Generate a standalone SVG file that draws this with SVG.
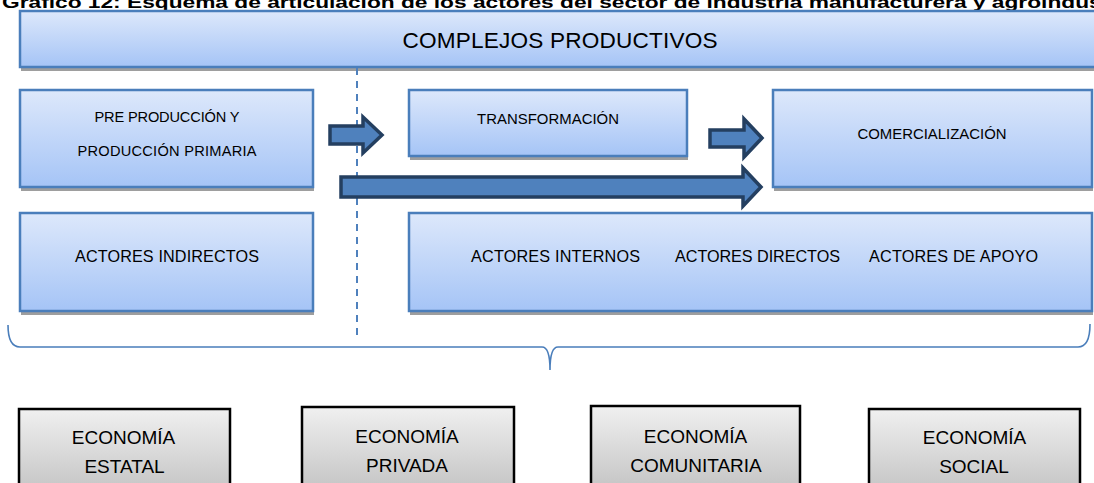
<svg xmlns="http://www.w3.org/2000/svg" width="1094" height="483" viewBox="0 0 1094 483">
<defs>
<linearGradient id="blue" x1="0" y1="0" x2="0" y2="1">
<stop offset="0" stop-color="#dde8fb"/>
<stop offset="1" stop-color="#a5c4f6"/>
</linearGradient>
<linearGradient id="gray" x1="0" y1="0" x2="0" y2="1">
<stop offset="0" stop-color="#f0f0f0"/>
<stop offset="1" stop-color="#c6c6c6"/>
</linearGradient>
</defs>
<style>
.shadow{fill:#9e9e9e}
.bbox{fill:url(#blue);stroke:#4a7ebb;stroke-width:2.5}
.gbox{fill:url(#gray);stroke:#000;stroke-width:2.5}
.t{font-family:"Liberation Sans",Arial,sans-serif;fill:#000;text-anchor:middle}
.s14{font-size:14.6px}
.s15{font-size:14.9px}
.s16{font-size:16.2px}
.s19{font-size:19px}
.s22{font-size:22.6px}
.arrow{fill:#4f81bd;stroke:#243f60;stroke-width:3.5;stroke-linejoin:miter}
.dash{stroke:#4f81bd;stroke-width:2;stroke-dasharray:7,6;fill:none}
.brace{stroke:#4a7ebb;stroke-width:1.6;fill:none}
.title{font-family:"Liberation Sans",Arial,sans-serif;font-weight:bold;font-size:16px;fill:#000}
</style>

<text class="title" x="2" y="8" textLength="1135" lengthAdjust="spacingAndGlyphs">Gráfico 12: Esquema de articulación de los actores del sector de industria manufacturera y agroindustria</text>

<g id="complejos">
<rect class="shadow" x="21" y="15" width="1090" height="56"/>
<rect class="bbox" x="20" y="11" width="1090" height="56"/>
<text class="t s22" x="560" y="48" textLength="315">COMPLEJOS PRODUCTIVOS</text>
</g>

<g id="connectors">
<line class="dash" x1="357" y1="68" x2="357" y2="339"/>
<path class="arrow" d="M330,126 L363,126 L363,117 L382,135 L363,153 L363,144 L330,144 Z"/>
<path class="arrow" d="M710,130 L744,130 L744,119 L762,138 L744,157 L744,147 L710,147 Z"/>
<path class="arrow" d="M341,177 L743,177 L743,168 L761,187 L743,206 L743,197 L341,197 Z"/>
<path class="brace" d="M8,325 Q8,347 20,347 L542,347 Q550,347 550,370 Q550,347 558,347 L1078,347 Q1090,347 1090,324"/>
</g>

<g id="preproduccion">
<rect class="shadow" x="21" y="94" width="293" height="97"/>
<rect class="bbox" x="20" y="90" width="293" height="97"/>
<text class="t s14" x="167" y="122" textLength="145">PRE PRODUCCIÓN Y</text>
<text class="t s14" x="167" y="156" textLength="179">PRODUCCIÓN PRIMARIA</text>
</g>

<g id="transformacion">
<rect class="shadow" x="410" y="94" width="278" height="66"/>
<rect class="bbox" x="409" y="90" width="278" height="66"/>
<text class="t s15" x="548" y="124" textLength="142">TRANSFORMACIÓN</text>
</g>

<g id="comercializacion">
<rect class="shadow" x="774" y="94" width="319" height="97"/>
<rect class="bbox" x="773" y="90" width="319" height="97"/>
<text class="t s15" x="932" y="139" textLength="149">COMERCIALIZACIÓN</text>
</g>

<g id="actores-indirectos">
<rect class="shadow" x="21" y="217" width="293" height="98"/>
<rect class="bbox" x="20" y="213" width="293" height="98"/>
<text class="t s16" x="167" y="262" textLength="184">ACTORES INDIRECTOS</text>
</g>

<g id="actores">
<rect class="shadow" x="410" y="217" width="683" height="98"/>
<rect class="bbox" x="409" y="213" width="683" height="98"/>
<text class="t s16" x="555.5" y="262" textLength="169">ACTORES INTERNOS</text>
<text class="t s16" x="757.5" y="262" textLength="165">ACTORES DIRECTOS</text>
<text class="t s16" x="953.5" y="262" textLength="169">ACTORES DE APOYO</text>
</g>

<g id="economia-estatal">
<rect class="gbox" x="19" y="409" width="211" height="80"/>
<text class="t s19" x="123.5" y="444">ECONOMÍA</text>
<text class="t s19" x="124.5" y="473">ESTATAL</text>
</g>

<g id="economia-privada">
<rect class="gbox" x="302" y="407" width="212" height="80"/>
<text class="t s19" x="407" y="443">ECONOMÍA</text>
<text class="t s19" x="407" y="472">PRIVADA</text>
</g>

<g id="economia-comunitaria">
<rect class="gbox" x="591" y="406" width="209" height="80"/>
<text class="t s19" x="695.5" y="443">ECONOMÍA</text>
<text class="t s19" x="696" y="472">COMUNITARIA</text>
</g>

<g id="economia-social">
<rect class="gbox" x="869" y="409" width="211" height="80"/>
<text class="t s19" x="974.5" y="444">ECONOMÍA</text>
<text class="t s19" x="974" y="473">SOCIAL</text>
</g>
</svg>
